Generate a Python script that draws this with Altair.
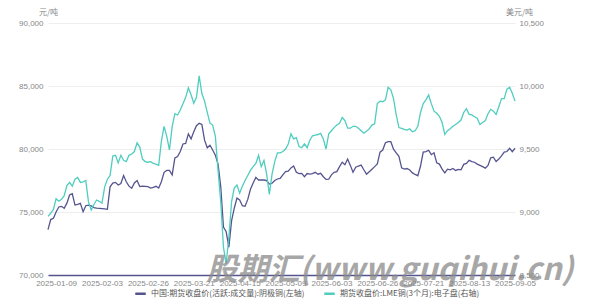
import altair as alt
import pandas as pd

# trading-day categories (weekdays, 2025-05-05 closed in both markets)
dates = [d.strftime("%Y-%m-%d") for d in pd.bdate_range("2025-01-06", "2025-09-05")
         if d.strftime("%Y-%m-%d") != "2025-05-05"]

tick_labels = ["2025-01-09", "2025-02-03", "2025-02-26", "2025-03-21", "2025-04-15",
               "2025-05-09", "2025-06-03", "2025-06-26", "2025-07-21", "2025-08-13",
               "2025-09-05"]

series_names = ["中国:期货收盘价(活跃:成交量):阴极铜(左轴)",
                "期货收盘价:LME铜(3个月):电子盘(右轴)"]
colors = ["#55548f", "#4fcdbf"]

shfe = [73600, 74400, 74500, 75000, 75400, 75450, 75300, 75700, 76350, 76450,
        75550, 75600, 75690, 75020, 75500, 75550, 75480, 75350, 75300, 75280,
        75260, 75240, 75210, 77000, 77300, 77350, 77140, 77260, 77900, 77400,
        77050, 76880, 77300, 77500, 77020, 77060, 77040, 77010, 76900, 76950,
        77040, 76900, 77400, 78150, 78300, 78300, 77940, 79300, 79400, 79800,
        80400, 80450, 81200, 80800, 81370, 81850, 82040, 81950, 80700, 80100,
        80300, 79920, 79500, 78800, 77000, 73800, 73440, 72200, 74300, 75300,
        76100, 75950, 75500, 75450, 76000, 76800, 77300, 77750, 77540, 77540,
        77540, 77500, 77220, 77280, 77500, 77620, 77670, 77950, 78200, 78250,
        78500, 78650, 78150, 78050, 78070, 77800, 78050, 78000, 78050, 78150,
        78000, 78070, 77800, 77590, 77600, 77950, 78150, 78200, 78600, 78950,
        78750, 79200, 78700, 78150, 78550, 78650, 78720, 78350, 78000, 78200,
        78400, 78600, 78820, 79750, 79920, 80500, 80580, 80580, 79980, 79700,
        79420, 78500, 78400, 78450, 78330, 78100, 77980, 77880, 78650, 79750,
        79790, 79900, 79550, 79700, 78900, 78800, 78400, 78100, 78400, 78350,
        78450, 78300, 78380, 78350, 78780, 78860, 79100, 79000, 78950, 78800,
        78700, 78600, 78480, 78700, 79300, 79350, 79000, 79200, 79450, 79750,
        79800, 80050, 79790, 80060]

lme = [8965, 8990, 9020, 9105, 9085, 9100, 9130, 9210, 9235, 9205,
       9260, 9275, 9235, 9240, 9250, 9080, 9016, 9060, 9095, 9085,
       9070, 9200, 9260, 9290, 9445, 9450, 9390, 9450, 9410, 9400,
       9450, 9460, 9480, 9550, 9515, 9420, 9400, 9395, 9400, 9386,
       9380, 9370, 9560, 9680, 9600, 9492, 9677, 9780, 9770, 9810,
       9860, 9910, 9985, 9930, 9863, 9910, 10080, 9940, 9880, 9790,
       9705, 9690, 9600, 9330, 9080, 8720, 8590, 8800, 9080, 9190,
       9214, 9150, 9205, 9250, 9290, 9330, 9360, 9385, 9450, 9360,
       9410, 9300, 9140, 9300, 9400, 9470, 9470, 9480, 9500, 9540,
       9620, 9580, 9590, 9520, 9510, 9540, 9510, 9570, 9605, 9611,
       9615, 9624, 9580, 9500, 9620, 9645, 9670, 9690, 9704, 9750,
       9725, 9665, 9665, 9680, 9680, 9664, 9645, 9625, 9640, 9660,
       9690, 9700, 9860, 9880, 9875, 9890, 9990, 9970, 9900, 9770,
       9670, 9664, 9655, 9650, 9660, 9637, 9645, 9680, 9790, 9860,
       9890, 9929, 9860, 9800, 9783, 9760, 9710, 9615, 9645, 9660,
       9680, 9695, 9710, 9730, 9790, 9820, 9775, 9770, 9756, 9745,
       9695, 9710, 9725, 9780, 9815, 9800, 9775, 9836, 9900, 9900,
       9975, 9990, 9942, 9880]

df = pd.DataFrame({"date": dates, "shfe": shfe, "lme": lme})

NUM_FONT = "Liberation Sans"
CJK_FONT = "Noto Sans CJK SC"

x_enc = alt.X("date:O", scale=alt.Scale(type="point", padding=0),
              axis=alt.Axis(values=tick_labels, labelAngle=0, title=None, ticks=False,
                            grid=False, domainColor="#55548f", domainWidth=1.5,
                            labelColor="#888888", labelFontSize=8, labelFont=NUM_FONT,
                            labelPadding=4, labelOverlap=False))

color_enc = alt.Color("series:N",
                      scale=alt.Scale(domain=series_names, range=colors),
                      legend=alt.Legend(orient="none", legendX=86, legendY=264,
                                        direction="horizontal", title=None,
                                        symbolType="stroke", symbolStrokeWidth=2.5,
                                        symbolSize=110, labelFontSize=8,
                                        labelFont=CJK_FONT, labelColor="#555555",
                                        columnPadding=14, labelLimit=400))

left = alt.Chart(df).transform_calculate(series=f"'{series_names[0]}'").mark_line(
    strokeWidth=1.3).encode(
    x=x_enc,
    y=alt.Y("shfe:Q", scale=alt.Scale(domain=[70000, 90000], zero=False, nice=False),
            axis=alt.Axis(values=[70000, 75000, 80000, 85000, 90000], format=",.0f",
                          domain=False, ticks=False, gridColor="#eeeeee",
                          labelColor="#888888", labelFontSize=8, labelFont=NUM_FONT,
                          labelPadding=5, title="元/吨", titleAngle=0, titleX=0,
                          titleY=-7, titleAlign="center", titleFontSize=8,
                          titleFont=CJK_FONT, titleFontWeight="normal",
                          titleColor="#888888")),
    color=color_enc)

right = alt.Chart(df).transform_calculate(series=f"'{series_names[1]}'").mark_line(
    strokeWidth=1.3).encode(
    x=x_enc,
    y=alt.Y("lme:Q", scale=alt.Scale(domain=[8500, 10500], zero=False, nice=False),
            axis=alt.Axis(orient="right", values=[8500, 9000, 9500, 10000, 10500],
                          format=",.0f", domain=False, ticks=False, grid=False,
                          labelColor="#888888", labelFontSize=8, labelFont=NUM_FONT,
                          labelPadding=4, title="美元/吨", titleAngle=0, titleX=4,
                          titleY=-7, titleAlign="center", titleFontSize=8,
                          titleFont=CJK_FONT, titleFontWeight="normal",
                          titleColor="#888888")),
    color=color_enc)

mark = alt.Chart(pd.DataFrame({"t": ["股期汇(www.guqihui.cn)"]})).mark_text(
    font=CJK_FONT, fontSize=31, fontWeight="bold", fontStyle="italic",
    color="#8a8a8a", opacity=0.75, align="center", baseline="middle").encode(
    text="t:N", x=alt.value(342), y=alt.value(248))

chart = alt.layer(left, right, mark).resolve_scale(y="independent").properties(
    width=467, height=252,
    background="white",
    autosize=alt.AutoSizeParams(type="none"),
    padding={"left": 48, "top": 23, "right": 83, "bottom": 27},
).configure_view(strokeWidth=0, stroke="transparent")

chart.save("out.html", embed_options={"renderer": "svg", "actions": False})
